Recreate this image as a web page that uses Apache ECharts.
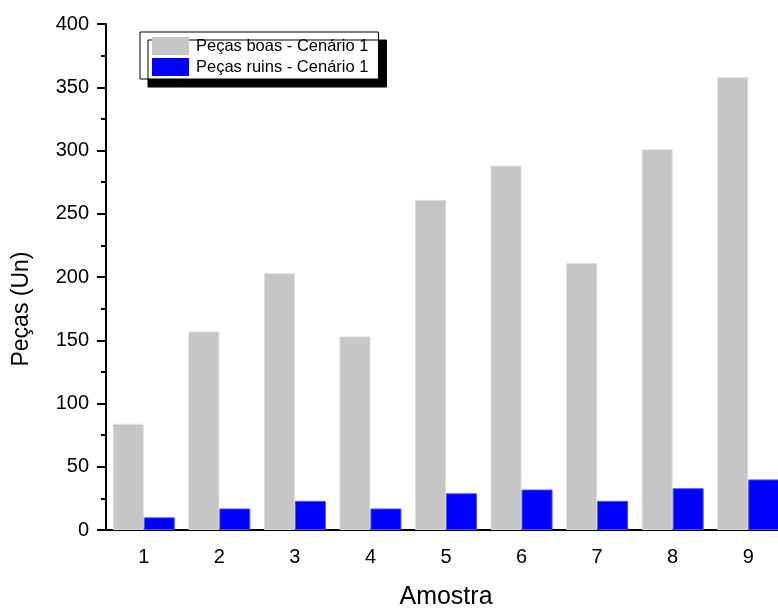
<!DOCTYPE html>
<html>
<head>
<meta charset="utf-8">
<script src="https://cdn.jsdelivr.net/npm/echarts@6/dist/echarts.min.js"></script>
<style>
html,body{margin:0;padding:0;background:#fff;}
#chart{width:778px;height:608px;}
</style>
</head>
<body>
<div id="chart"></div>
<script>
const categories = ['1','2','3','4','5','6','7','8','9'];
const pecasBoas = [84, 157, 203, 153, 261, 288, 211, 301, 358];
const pecasRuins = [10, 17, 23, 17, 29, 32, 23, 33, 40];
const seriesNames = ['Peças boas - Cenário 1', 'Peças ruins - Cenário 1'];
const xTitle = 'Amostra';
const yTitle = 'Peças (Un)';

const FONT = 'Arial, "Liberation Sans", sans-serif';
const chart = echarts.init(document.getElementById('chart'), null, {renderer: 'canvas'});
chart.setOption({
  animation: false,
  backgroundColor: '#ffffff',
  grid: {left: 106, top: 24, bottom: 78, width: 680, containLabel: false, outerBoundsMode: 'none'},
  legend: {
    orient: 'vertical',
    left: 140, top: 32,
    padding: [5, 10, 3, 12],
    icon: 'rect',
    itemWidth: 37, itemHeight: 18, itemGap: 3,
    backgroundColor: '#ffffff',
    borderColor: '#000000', borderWidth: 1,
    shadowColor: '#000000', shadowBlur: 0, shadowOffsetX: 8, shadowOffsetY: 8,
    textStyle: {fontFamily: FONT, fontSize: 16.5, color: '#000', padding: [0, 0, 0, 2]},
    data: seriesNames,
    itemStyle: {borderWidth: 0}
  },
  xAxis: [{
    type: 'category', data: categories, position: 'bottom',
    axisLine: {lineStyle: {color: '#000', width: 2}},
    axisTick: {alignWithLabel: true, length: 10, lineStyle: {color: '#000', width: 2}},
    axisLabel: {fontFamily: FONT, fontSize: 20, color: '#000', margin: 17},
    splitLine: {show: false}
  }, {
    type: 'category', data: categories, position: 'bottom',
    axisLine: {show: false},
    axisTick: {length: 5, lineStyle: {color: '#000', width: 2}},
    axisLabel: {show: false},
    splitLine: {show: false}
  }],
  yAxis: {
    type: 'value', min: 0, max: 400, interval: 50,
    axisLine: {show: true, lineStyle: {color: '#000', width: 2}},
    axisTick: {show: true, length: 9, lineStyle: {color: '#000', width: 2}},
    minorTick: {show: true, splitNumber: 2, length: 5, lineStyle: {color: '#000', width: 2}},
    axisLabel: {fontFamily: FONT, fontSize: 20, color: '#000', margin: 17},
    splitLine: {show: false}
  },
  graphic: [{
    type: 'text', x: 22, y: 309, rotation: Math.PI / 2,
    style: {text: yTitle, font: '23px ' + FONT, fill: '#000', textAlign: 'center', textVerticalAlign: 'middle'}
  }, {
    type: 'text', x: 446, y: 597,
    style: {text: xTitle, font: '25px ' + FONT, fill: '#000', textAlign: 'center', textVerticalAlign: 'middle'}
  }],
  series: [{
    name: seriesNames[0], type: 'bar', data: pecasBoas, xAxisIndex: 0,
    barGap: '0%', barCategoryGap: '18%',
    itemStyle: {color: '#c6c6c6', borderColor: '#dcdcdc', borderWidth: 1}
  }, {
    name: seriesNames[1], type: 'bar', data: pecasRuins, xAxisIndex: 0,
    barGap: '0%', barCategoryGap: '18%',
    itemStyle: {color: '#0000ff', borderColor: '#4d4dff', borderWidth: 1}
  }]
});
</script>
</body>
</html>
